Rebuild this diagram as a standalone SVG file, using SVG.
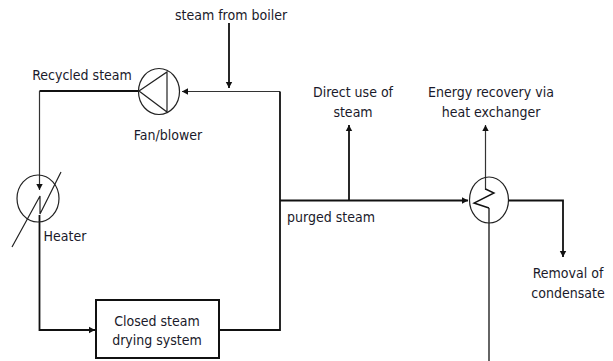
<svg xmlns="http://www.w3.org/2000/svg" width="613" height="361" viewBox="0 0 613 361">
<style>
text{font-family:"DejaVu Sans Condensed","DejaVu Sans","Liberation Sans",sans-serif;font-stretch:condensed;font-size:14px;fill:#1a1a2a;text-anchor:middle}
.l{fill:none;stroke:#111;stroke-width:1.8}
.t{fill:none;stroke:#333;stroke-width:1.2}
.c{fill:none;stroke:#222;stroke-width:1.2}
</style>
<defs><marker id="a" markerUnits="userSpaceOnUse" markerWidth="8" markerHeight="8" refX="6" refY="4" orient="auto"><path d="M0 0.8L6 4L0 7.2Z" fill="#111"/></marker></defs>
<g id="connectors">
<path class="l" d="M229 23V88" marker-end="url(#a)"/>
<path class="t" d="M280 91.500H182" marker-end="url(#a)"/>
<path class="l" d="M138 91H39.500"/>
<path class="t" d="M39.500 91V190" marker-end="url(#a)"/>
<path class="l" d="M39.500 215V330H95" marker-end="url(#a)"/>
<path class="l" d="M219 330H280V91.500"/>
<path class="l" d="M280 200.500H468" marker-end="url(#a)"/>
<path class="l" d="M349 200V125" marker-end="url(#a)"/>
<path class="t" d="M485.500 190V125" marker-end="url(#a)"/>
<path class="l" d="M508 200.500H563V257" marker-end="url(#a)"/>
<path class="l" style="stroke-width:1.3" d="M489 361V208"/>
</g>
<g id="fan"><ellipse class="c" cx="159" cy="91.500" rx="20.500" ry="23"/><path class="c" d="M139 91L167 72L167 112Z"/><text x="168" y="140">Fan/blower</text></g>
<g id="heater"><ellipse class="c" cx="38" cy="198.500" rx="21" ry="23.500"/><path class="c" d="M61 172L40 214V196L12 247"/><text x="65" y="241">Heater</text></g>
<g id="exchanger"><ellipse class="c" cx="489" cy="200" rx="19.500" ry="23"/><path class="l" style="stroke-width:1.4" d="M485.500 189L494 193L474 203L489 208"/></g>
<g id="dryer"><rect x="96" y="300" width="123" height="58" fill="#fff" stroke="#111" stroke-width="2"/><text x="157" y="326">Closed steam</text><text x="157" y="345">drying system</text></g>
<g id="labels">
<text x="231" y="20">steam from boiler</text>
<text x="82" y="80">Recycled steam</text>
<text x="331" y="222">purged steam</text>
<text x="353" y="97">Direct use of</text><text x="353" y="117">steam</text>
<text x="491" y="97">Energy recovery via</text><text x="491" y="117">heat exchanger</text>
<text x="568" y="278">Removal of</text><text x="568" y="298">condensate</text>
</g>
</svg>
